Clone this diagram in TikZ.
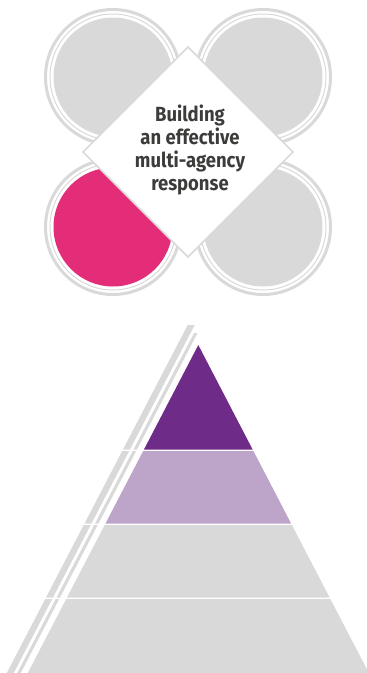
\documentclass[tikz,border=0pt]{standalone}
\usepackage{fontspec}
\newfontfamily\hubfont[FakeStretch=0.9]{Fira Sans}
\definecolor{ringgray}{HTML}{D9D9D9}
\definecolor{hubpink}{HTML}{E42D78}
\definecolor{tierdark}{HTML}{6E2C88}
\definecolor{tierlight}{HTML}{BDA4C9}
\definecolor{hubtext}{HTML}{3C3C3B}

\begin{document}
\begin{tikzpicture}[x=1pt,y=-1pt,
  ring/.style={draw=ringgray,line width=3pt},
  thinring/.style={draw=ringgray,line width=1pt},
  hubframe/.style={draw=ringgray,fill=white,line width=1.5pt},
  hublabel/.style={align=center,text=hubtext,font=\hubfont\bfseries\fontsize{20.5}{23.3}\selectfont}]

\useasboundingbox (0,0) rectangle (367,673);

% four circles
\foreach \cx/\cy/\col in {113/77/ringgray,263/77/ringgray,113/227/hubpink,263/227/ringgray}
{
  \draw[ring] (\cx,\cy) circle[radius=67.5];
  \draw[thinring] (\cx,\cy) circle[radius=63];
  \fill[\col] (\cx,\cy) circle[radius=59.5];
}

% centre diamond
\coordinate (hubN) at (188,47);
\coordinate (hubE) at (293,152);
\coordinate (hubS) at (188,257);
\coordinate (hubW) at (83,152);
\draw[hubframe] (hubN) -- (hubE) -- (hubS) -- (hubW) -- cycle;
\node[hublabel] (hub) at (190,150) {Building\\an effective\\multi-agency\\response};

% pyramid tiers with side stripes
\coordinate (apex) at (198.3,345);
\foreach \t/\b/\so/\si/\col in {345/449.5/325/333/tierdark,451/523.5/451/451/tierlight,
  525/597.5/525/525/ringgray,599/673/599/599/ringgray}
{
  \fill[\col] ({198.3-0.52*(\t-345)},\t) -- ({198.3+0.52*(\t-345)},\t)
    -- ({198.3+0.52*(\b-345)},\b) -- ({198.3-0.52*(\b-345)},\b) -- cycle;
  \fill[ringgray] ({198.3-0.52*(\so-345)-21},\so) -- ({198.3-0.52*(\so-345)-14},\so)
    -- ({198.3-0.52*(\b-345)-14},\b) -- ({198.3-0.52*(\b-345)-21},\b) -- cycle;
  \fill[ringgray] ({198.3-0.52*(\si-345)-10.5},\si) -- ({198.3-0.52*(\si-345)-7},\si)
    -- ({198.3-0.52*(\b-345)-7},\b) -- ({198.3-0.52*(\b-345)-10.5},\b) -- cycle;
}

\end{tikzpicture}
\end{document}
